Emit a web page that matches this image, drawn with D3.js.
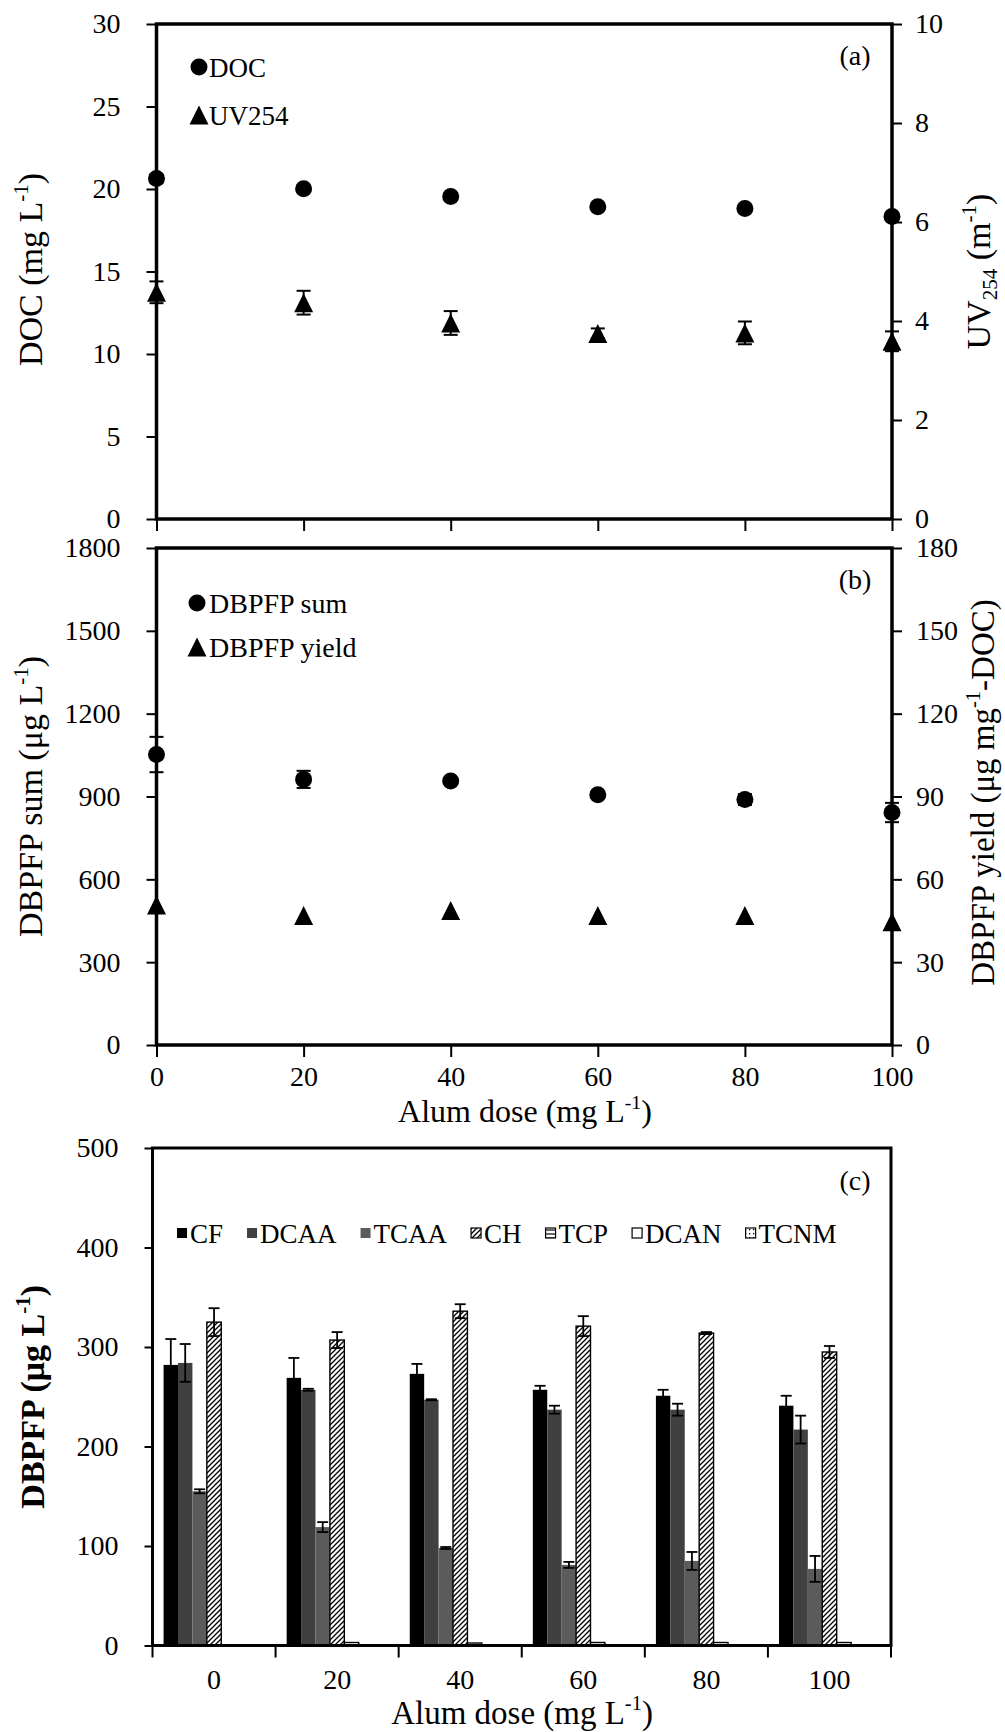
<!DOCTYPE html>
<html><head><meta charset="utf-8">
<script src="https://cdn.jsdelivr.net/npm/d3@7"></script>
<style>html,body{margin:0;padding:0;background:#fff;} svg{display:block;}</style>
</head><body>
<svg id="chart" width="1005" height="1732"></svg>
<script>
// ---------------- DATA ----------------
const doses = [0, 20, 40, 60, 80, 100];
const doseLabels = ["0", "20", "40", "60", "80", "100"];

// Panel (a)
const docValues = [20.64, 20.01, 19.55, 18.92, 18.82, 18.34];
const docErrors = [0.25, 0.2, 0.2, 0.2, 0.2, 0.2];
const uv254Values = [4.58, 4.37, 3.96, 3.75, 3.76, 3.59];
const uv254Errors = [0.22, 0.24, 0.24, 0.10, 0.23, 0.20];
const docTicks = [0, 5, 10, 15, 20, 25, 30];
const uvTicks = [0, 2, 4, 6, 8, 10];

// Panel (b)
const dbpfpSumValues = [1052, 962, 956, 906, 889, 842];
const dbpfpSumErrors = [64, 31, 12, 12, 20, 35];
const dbpfpYieldValues = [50.7, 46.9, 48.7, 46.9, 46.9, 44.6];
const sumTicks = [0, 300, 600, 900, 1200, 1500, 1800];
const yieldTicks = [0, 30, 60, 90, 120, 150, 180];

// Panel (c)
const seriesNames = ["CF", "DCAA", "TCAA", "CH", "TCP", "DCAN", "TCNM"];
const cfValues   = [282, 269, 273, 257, 251, 241];
const cfErrors   = [26, 20, 10, 4, 6, 10];
const dcaaValues = [284, 257, 247, 237, 237, 217];
const dcaaErrors = [19, 1, 0.5, 4, 6, 14];
const tcaaValues = [155, 119, 98, 81, 85, 77];
const tcaaErrors = [2, 5, 1, 3, 9, 13];
const chValues   = [325, 307, 336, 321, 314, 295];
const chErrors   = [14, 8, 7, 10, 1, 6];
const tcpValues  = [0.6, 3, 2.5, 3, 3, 3];
const dcanValues = [0.5, 0.5, 0.5, 0.5, 0.5, 0.5];
const tcnmValues = [0.5, 0.5, 0.5, 0.5, 0.5, 0.5];
const dbpfpTicks = [0, 100, 200, 300, 400, 500];

// ---------------- SETUP ----------------
const FONT = "'Liberation Serif','Times New Roman',Times,serif";
const fmt = d3.format("d");
const svg = d3.select("#chart");
svg.append("rect").attr("width", 1005).attr("height", 1732).attr("fill", "#fff");

const defs = svg.append("defs");
// diagonal hatch (CH)
const ph = defs.append("pattern").attr("id", "hatchCH").attr("patternUnits", "userSpaceOnUse")
  .attr("width", 5).attr("height", 5);
ph.append("rect").attr("width", 5).attr("height", 5).attr("fill", "#fff");
ph.append("path").attr("d", "M0,5 L5,0 M-1,1 L1,-1 M4,6 L6,4").attr("stroke", "#000").attr("stroke-width", 1.3);
// horizontal lines (TCP)
const pt = defs.append("pattern").attr("id", "hatchTCP").attr("patternUnits", "userSpaceOnUse")
  .attr("width", 4).attr("height", 4);
pt.append("rect").attr("width", 4).attr("height", 4).attr("fill", "#fff");
pt.append("path").attr("d", "M0,2 L4,2").attr("stroke", "#000").attr("stroke-width", 1.2);
// dots (TCNM)
const pd = defs.append("pattern").attr("id", "dotsTCNM").attr("patternUnits", "userSpaceOnUse")
  .attr("width", 4).attr("height", 4);
pd.append("rect").attr("width", 4).attr("height", 4).attr("fill", "#fff");
pd.append("rect").attr("x", 1).attr("y", 1).attr("width", 1.3).attr("height", 1.3).attr("fill", "#000");

function styleAxis(g, fs) {
  g.select(".domain").remove();
  g.selectAll(".tick line").attr("stroke", "#000").attr("stroke-width", 2);
  g.selectAll(".tick text").attr("font-family", FONT).attr("font-size", fs).attr("fill", "#000");
}

function richText(parent, x, y, rotate, parts, fs, opts = {}) {
  const t = parent.append("text")
    .attr("transform", `translate(${x},${y})` + (rotate ? ` rotate(${rotate})` : ""))
    .attr("text-anchor", opts.anchor || "middle")
    .attr("font-family", FONT).attr("font-size", fs)
    .attr("font-weight", opts.weight || "normal").attr("fill", "#000");
  let shift = 0;
  parts.forEach(p => {
    const ts = t.append("tspan").text(p.t);
    let target = 0;
    if (p.sup) { target = -fs * 0.42; ts.attr("font-size", fs * 0.62); }
    else if (p.sub) { target = fs * 0.2; ts.attr("font-size", fs * 0.62); }
    ts.attr("dy", target - shift);
    shift = target;
  });
  return t;
}

function trianglePath(w, h) {
  return `M0,${-h / 2} L${w / 2},${h / 2} L${-w / 2},${h / 2} Z`;
}

function errorBars(g, xs, vals, errs, scale, cap) {
  vals.forEach((v, i) => {
    const x = xs(doses[i]);
    const yT = scale(v + errs[i]), yB = scale(v - errs[i]);
    g.append("line").attr("x1", x).attr("x2", x).attr("y1", yT).attr("y2", yB).attr("stroke", "#000").attr("stroke-width", 2);
    g.append("line").attr("x1", x - cap / 2).attr("x2", x + cap / 2).attr("y1", yT).attr("y2", yT).attr("stroke", "#000").attr("stroke-width", 2);
    g.append("line").attr("x1", x - cap / 2).attr("x2", x + cap / 2).attr("y1", yB).attr("y2", yB).attr("stroke", "#000").attr("stroke-width", 2);
  });
}

// ---------------- PANEL (a) ----------------
{
  const P = { x0: 156.5, x1: 892, y0: 24, y1: 519 };
  const g = svg.append("g");
  const x = d3.scaleLinear().domain([0, 100]).range([P.x0, P.x1]);
  const yL = d3.scaleLinear().domain([0, 30]).range([P.y1, P.y0]);
  const yR = d3.scaleLinear().domain([0, 10]).range([P.y1, P.y0]);

  g.append("g").attr("transform", `translate(${P.x0},0)`)
    .call(d3.axisLeft(yL).tickValues(docTicks).tickFormat(fmt).tickSize(10).tickPadding(26)).call(styleAxis, 28);
  g.append("g").attr("transform", `translate(${P.x1},0)`)
    .call(d3.axisRight(yR).tickValues(uvTicks).tickFormat(fmt).tickSize(10).tickPadding(13)).call(styleAxis, 28);
  g.append("g").attr("transform", `translate(0,${P.y1})`)
    .call(d3.axisBottom(x).tickValues(doses).tickSize(12).tickFormat("")).call(styleAxis, 28);
  g.append("rect").attr("x", P.x0).attr("y", P.y0).attr("width", P.x1 - P.x0).attr("height", P.y1 - P.y0)
    .attr("fill", "none").attr("stroke", "#000").attr("stroke-width", 3.5);

  errorBars(g, x, docValues, docErrors, yL, 14);
  errorBars(g, x, uv254Values, uv254Errors, yR, 14);
  g.selectAll("circle.doc").data(docValues).join("circle").attr("class", "doc")
    .attr("cx", (d, i) => x(doses[i])).attr("cy", d => yL(d)).attr("r", 8.5).attr("fill", "#000");
  g.selectAll("path.uv").data(uv254Values).join("path").attr("class", "uv")
    .attr("d", trianglePath(19, 19))
    .attr("transform", (d, i) => `translate(${x(doses[i])},${yR(d)})`).attr("fill", "#000");

  // legend
  g.append("circle").attr("cx", 199).attr("cy", 67).attr("r", 8.5).attr("fill", "#000");
  g.append("text").attr("x", 209).attr("y", 76.5).attr("font-family", FONT).attr("font-size", 27).text("DOC");
  g.append("path").attr("d", trianglePath(19, 19)).attr("transform", "translate(199,115)").attr("fill", "#000");
  g.append("text").attr("x", 209).attr("y", 124.5).attr("font-family", FONT).attr("font-size", 27).text("UV254");
  g.append("text").attr("x", 855).attr("y", 64.5).attr("text-anchor", "middle").attr("font-family", FONT).attr("font-size", 28).text("(a)");

  richText(g, 42, (P.y0 + P.y1) / 2 - 2, -90, [{ t: "DOC (mg L" }, { t: "-1", sup: true }, { t: ")" }], 34);
  richText(g, 990, (P.y0 + P.y1) / 2, -90, [{ t: "UV" }, { t: "254", sub: true }, { t: " (m" }, { t: "-1", sup: true }, { t: ")" }], 34);
}

// ---------------- PANEL (b) ----------------
{
  const P = { x0: 156.5, x1: 892, y0: 548, y1: 1045 };
  const g = svg.append("g");
  const x = d3.scaleLinear().domain([0, 100]).range([P.x0, P.x1]);
  const yL = d3.scaleLinear().domain([0, 1800]).range([P.y1, P.y0]);
  const yR = d3.scaleLinear().domain([0, 180]).range([P.y1, P.y0]);

  g.append("g").attr("transform", `translate(${P.x0},0)`)
    .call(d3.axisLeft(yL).tickValues(sumTicks).tickFormat(fmt).tickSize(10).tickPadding(26)).call(styleAxis, 28);
  g.append("g").attr("transform", `translate(${P.x1},0)`)
    .call(d3.axisRight(yR).tickValues(yieldTicks).tickFormat(fmt).tickSize(10).tickPadding(14)).call(styleAxis, 28);
  g.append("g").attr("transform", `translate(0,${P.y1})`)
    .call(d3.axisBottom(x).tickValues(doses).tickFormat(fmt).tickSize(12).tickPadding(9)).call(styleAxis, 28);
  g.append("rect").attr("x", P.x0).attr("y", P.y0).attr("width", P.x1 - P.x0).attr("height", P.y1 - P.y0)
    .attr("fill", "none").attr("stroke", "#000").attr("stroke-width", 3.5);

  errorBars(g, x, dbpfpSumValues, dbpfpSumErrors, yL, 14);
  g.selectAll("circle.sum").data(dbpfpSumValues).join("circle").attr("class", "sum")
    .attr("cx", (d, i) => x(doses[i])).attr("cy", d => yL(d)).attr("r", 8.5).attr("fill", "#000");
  g.selectAll("path.yield").data(dbpfpYieldValues).join("path").attr("class", "yield")
    .attr("d", trianglePath(19, 19))
    .attr("transform", (d, i) => `translate(${x(doses[i])},${yR(d)})`).attr("fill", "#000");

  g.append("circle").attr("cx", 197).attr("cy", 603).attr("r", 8.5).attr("fill", "#000");
  g.append("text").attr("x", 209).attr("y", 612.5).attr("font-family", FONT).attr("font-size", 28).text("DBPFP sum");
  g.append("path").attr("d", trianglePath(19, 19)).attr("transform", "translate(197,647)").attr("fill", "#000");
  g.append("text").attr("x", 209).attr("y", 656.5).attr("font-family", FONT).attr("font-size", 28).text("DBPFP yield");
  g.append("text").attr("x", 855).attr("y", 589).attr("text-anchor", "middle").attr("font-family", FONT).attr("font-size", 28).text("(b)");

  richText(g, 42, (P.y0 + P.y1) / 2, -90, [{ t: "DBPFP sum (μg L" }, { t: "-1", sup: true }, { t: ")" }], 34);
  richText(g, 994, (P.y0 + P.y1) / 2 - 4, -90, [{ t: "DBPFP yield (μg mg" }, { t: "-1", sup: true }, { t: "-DOC)" }], 33);
  richText(g, 525, 1122, 0, [{ t: "Alum dose (mg L" }, { t: "-1", sup: true }, { t: ")" }], 32);
}

// ---------------- PANEL (c) ----------------
{
  const P = { x0: 152.5, x1: 891, y0: 1148, y1: 1645.5 };
  const g = svg.append("g");
  const x = d3.scaleBand().domain(doseLabels).range([P.x0, P.x1]).paddingInner(0.18).paddingOuter(0.09);
  const xs = d3.scaleBand().domain(seriesNames).range([0, x.bandwidth()]);
  const y = d3.scaleLinear().domain([0, 500]).range([P.y1, P.y0]);

  const seriesValues = [cfValues, dcaaValues, tcaaValues, chValues, tcpValues, dcanValues, tcnmValues];
  const seriesErrors = [cfErrors, dcaaErrors, tcaaErrors, chErrors, null, null, null];
  const fills = ["#000", "#404040", "#5b5b5b", "url(#hatchCH)", "url(#hatchTCP)", "#fff", "url(#dotsTCNM)"];
  const strokes = [null, null, null, "#000", "#000", "#000", "#000"];

  g.append("g").attr("transform", `translate(${P.x0},0)`)
    .call(d3.axisLeft(y).tickValues(dbpfpTicks).tickFormat(fmt).tickSize(8).tickPadding(26)).call(styleAxis, 28);
  g.append("g").attr("transform", `translate(0,${P.y1})`)
    .call(d3.axisBottom(x).tickSize(0).tickPadding(24)).call(styleAxis, 28);
  // category boundary ticks
  const step = x.step();
  const first = x(doseLabels[0]) - x.paddingInner() * step / 2;
  g.selectAll("line.cat").data(d3.range(doseLabels.length + 1)).join("line").attr("class", "cat")
    .attr("x1", i => first + i * step).attr("x2", i => first + i * step)
    .attr("y1", P.y1).attr("y2", P.y1 + 12).attr("stroke", "#000").attr("stroke-width", 2);

  seriesNames.forEach((s, si) => {
    const vals = seriesValues[si];
    g.selectAll(`rect.s${si}`).data(vals).join("rect").attr("class", `s${si}`)
      .attr("x", (d, i) => x(doseLabels[i]) + xs(s)).attr("width", xs.bandwidth())
      .attr("y", d => y(d)).attr("height", d => y(0) - y(d))
      .attr("fill", fills[si])
      .attr("stroke", strokes[si] || "none").attr("stroke-width", 1.4);
  });
  // error bars
  seriesNames.forEach((s, si) => {
    const errs = seriesErrors[si];
    if (!errs) return;
    seriesValues[si].forEach((v, i) => {
      const cx = x(doseLabels[i]) + xs(s) + xs.bandwidth() / 2;
      const yT = y(v + errs[i]), yB = y(v - errs[i]);
      g.append("line").attr("x1", cx).attr("x2", cx).attr("y1", yT).attr("y2", yB).attr("stroke", "#000").attr("stroke-width", 1.8);
      [yT, yB].forEach(yy => g.append("line").attr("x1", cx - 5.5).attr("x2", cx + 5.5).attr("y1", yy).attr("y2", yy)
        .attr("stroke", "#000").attr("stroke-width", 1.8));
    });
  });

  g.append("rect").attr("x", P.x0).attr("y", P.y0).attr("width", P.x1 - P.x0).attr("height", P.y1 - P.y0)
    .attr("fill", "none").attr("stroke", "#000").attr("stroke-width", 3);

  // legend
  let lx = 177;
  const ly = 1233;
  seriesNames.forEach((s, si) => {
    g.append("rect").attr("x", lx).attr("y", ly - 5).attr("width", 10).attr("height", 10)
      .attr("fill", fills[si]).attr("stroke", strokes[si] || "none").attr("stroke-width", 1.2);
    const t = g.append("text").attr("x", lx + 13).attr("y", ly + 9.5).attr("font-family", FONT).attr("font-size", 27).text(s);
    lx = lx + 13 + t.node().getComputedTextLength() + 24;
  });
  g.append("text").attr("x", 855).attr("y", 1190).attr("text-anchor", "middle").attr("font-family", FONT).attr("font-size", 28).text("(c)");

  richText(g, 44, (P.y0 + P.y1) / 2, -90, [{ t: "DBPFP (μg L" }, { t: "-1", sup: true }, { t: ")" }], 34, { weight: "bold" });
  richText(g, 522, 1724, 0, [{ t: "Alum dose (mg L" }, { t: "-1", sup: true }, { t: ")" }], 33);
}
</script>
</body></html>
